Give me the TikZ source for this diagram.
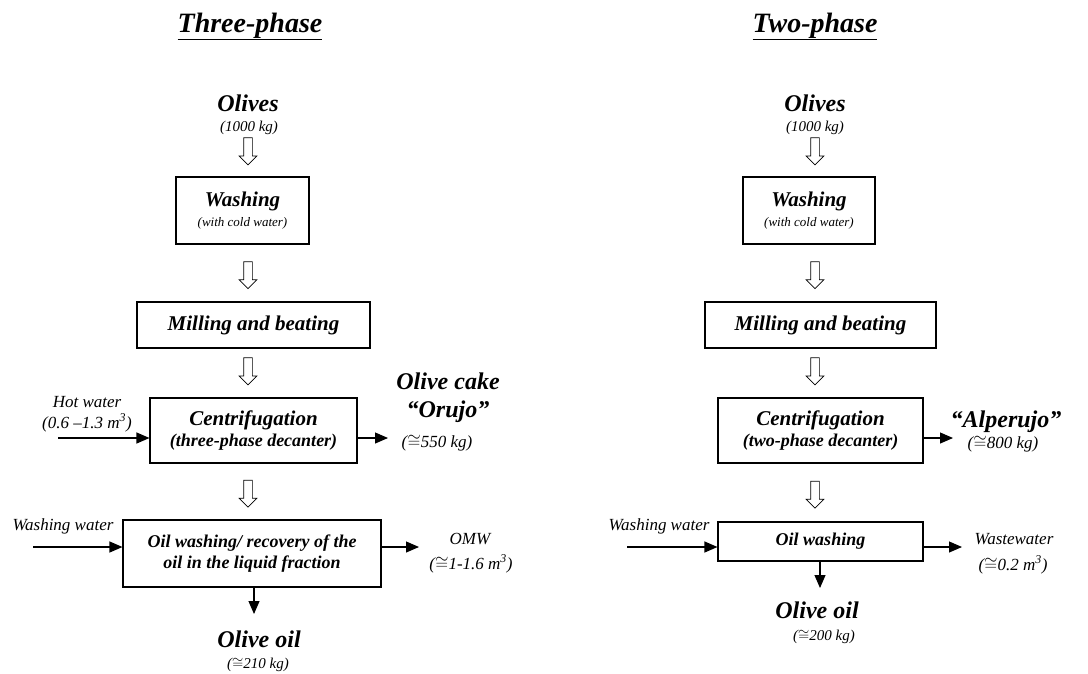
\documentclass[tikz,border=0pt]{standalone}
\usepackage{fontspec}
\setmainfont{Liberation Serif}
\usetikzlibrary{arrows.meta,positioning,calc,shapes.arrows}
\newcommand{\pxfont}[1]{\fontsize{#1}{#1}\selectfont}

\begin{document}
\begin{tikzpicture}[x=1pt, y=-1pt,
  box/.style={rectangle, draw, line width=1.1pt, align=center, inner sep=0pt, font=\bfseries\itshape\pxfont{18}},
  title/.style={anchor=base, inner sep=0pt, font=\bfseries\itshape\pxfont{28}},
  big/.style={anchor=base, inner sep=0pt, font=\bfseries\itshape\pxfont{24}},
  qty/.style={anchor=base, inner sep=0pt, font=\itshape\pxfont{15}},
  side/.style={anchor=base, inner sep=0pt, font=\itshape\pxfont{17}},
  arr/.style={-{Triangle[length=13pt, width=11pt]}, line width=1.1pt},
  harrow/.style={single arrow, draw, line width=0.7pt, shape border rotate=270, inner sep=4pt,
    minimum height=27pt, minimum width=17pt, single arrow head extend=4.5pt, single arrow head indent=0pt}
]
  \useasboundingbox (0,0) rectangle (1088,673);

  % three-phase
  \node[title] (tL) at (250,32) {\underline{Three-phase}};
  \node[big] (olL) at (248,111) {Olives};
  \node[qty] (olqL) at (249,131) {(1000 kg)};
  \node[box, minimum width=133pt, minimum height=67pt] (washL) at (242.5,210.5)
    {{\pxfont{21}Washing}\\[2pt]{\mdseries\pxfont{13}(with cold water)}};
  \node[box, minimum width=233pt, minimum height=46pt, font=\bfseries\itshape\pxfont{21}] (millL) at (253.5,325) {Milling and beating};
  \node[box, minimum width=207pt, minimum height=65pt] (centL) at (253.5,430.5)
    {{\pxfont{21}Centrifugation}\\[3pt](three-phase decanter)};
  \node[box, minimum width=258pt, minimum height=67pt] (oilwL) at (252,553.5)
    {Oil washing/ recovery of the\\[3pt]oil in the liquid fraction};

  \node[side] (hotL) at (87,407) {Hot water};
  \node[side] (hotqL) at (87,428) {(0.6 –1.3 m\textsuperscript{3})};
  \node[big] (cakeL) at (448,389) {Olive cake};
  \node[big] (orujoL) at (448,417) {“Orujo”};
  \node[side] (cakeqL) at (437,447) {($\cong$550 kg)};
  \node[side] (wwL) at (63,530) {Washing water};
  \node[side] (omwL) at (470,544) {OMW};
  \node[side] (omwqL) at (471,569) {($\cong$1-1.6 m\textsuperscript{3})};
  \node[big] (oilL) at (259,647) {Olive oil};
  \node[qty] (oilqL) at (258,668) {($\cong$210 kg)};

  \coordinate (hotinL) at (58,438);
  \coordinate (cakeoutL) at (388,438);
  \coordinate (wwinL) at (33,547);
  \coordinate (omwoutL) at (419,547);
  \coordinate (oiloutL) at (254,614);

  \path (olqL.south -| olL) -- node[harrow, pos=0.35] {} (washL.north -| olL);
  \path (washL.south -| olL) -- node[harrow] {} (millL.north -| olL);
  \path (millL.south -| olL) -- node[harrow, pos=0.42] {} (centL.north -| olL);
  \path (centL.south -| olL) -- node[harrow] {} (oilwL.north -| olL);

  \draw[arr] (hotinL) -- (hotinL -| centL.west);
  \draw[arr] (hotinL -| centL.east) -- (cakeoutL);
  \draw[arr] (wwinL) -- (wwinL -| oilwL.west);
  \draw[arr] (wwinL -| oilwL.east) -- (omwoutL);
  \draw[arr] (oiloutL |- oilwL.south) -- (oiloutL);

  % two-phase
  \node[title] (tR) at (815,32) {\underline{Two-phase}};
  \node[big] (olR) at (815,111) {Olives};
  \node[qty] (olqR) at (815,131) {(1000 kg)};
  \node[box, minimum width=132pt, minimum height=67pt] (washR) at (809,210.5)
    {{\pxfont{21}Washing}\\[2pt]{\mdseries\pxfont{13}(with cold water)}};
  \node[box, minimum width=231pt, minimum height=46pt, font=\bfseries\itshape\pxfont{21}] (millR) at (820.5,325) {Milling and beating};
  \node[box, minimum width=205pt, minimum height=65pt] (centR) at (820.5,430.5)
    {{\pxfont{21}Centrifugation}\\[3pt](two-phase decanter)};
  \node[box, minimum width=205pt, minimum height=39pt] (oilwR) at (820.5,541.5) {Oil washing};

  \node[big] (alpR) at (1006,427) {“Alperujo”};
  \node[side] (alpqR) at (1003,448) {($\cong$800 kg)};
  \node[side] (wwR) at (659,530) {Washing water};
  \node[side] (wastR) at (1014,544) {Wastewater};
  \node[side] (wastqR) at (1013,570) {($\cong$0.2 m\textsuperscript{3})};
  \node[big] (oilR) at (817,618) {Olive oil};
  \node[qty] (oilqR) at (824,640) {($\cong$200 kg)};

  \coordinate (alpoutR) at (953,438);
  \coordinate (wwinR) at (627,547);
  \coordinate (wastoutR) at (962,547);
  \coordinate (oiloutR) at (820,588);

  \path (olqR.south -| olR) -- node[harrow, pos=0.35] {} (washR.north -| olR);
  \path (washR.south -| olR) -- node[harrow] {} (millR.north -| olR);
  \path (millR.south -| olR) -- node[harrow, pos=0.42] {} (centR.north -| olR);
  \path (centR.south -| olR) -- node[harrow] {} (oilwR.north -| olR);

  \draw[arr] (alpoutR -| centR.east) -- (alpoutR);
  \draw[arr] (wwinR) -- (wwinR -| oilwR.west);
  \draw[arr] (wwinR -| oilwR.east) -- (wastoutR);
  \draw[arr] (oiloutR |- oilwR.south) -- (oiloutR);
\end{tikzpicture}
\end{document}
